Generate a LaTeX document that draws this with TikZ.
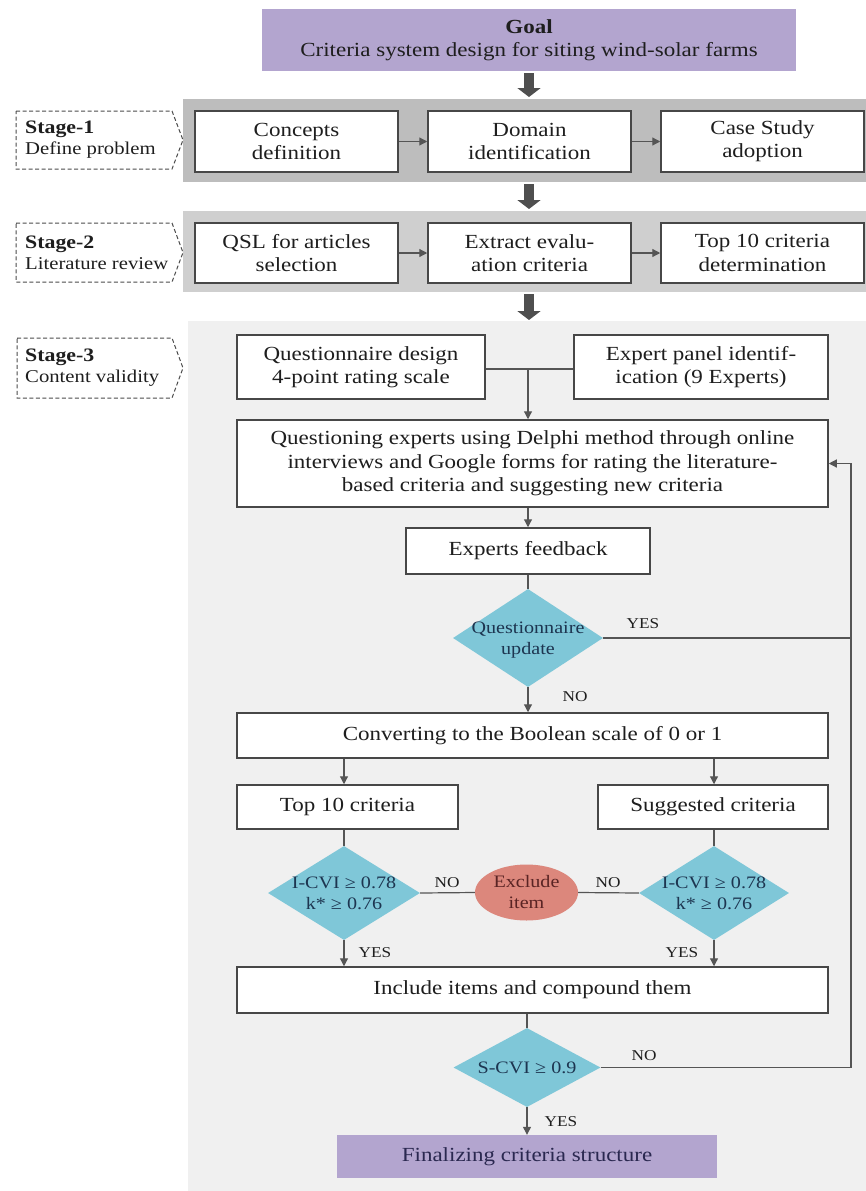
\documentclass[tikz,border=0pt]{standalone}
\usepackage{fontspec}
\setmainfont{Liberation Serif}[FakeStretch=1.15]
\usetikzlibrary{arrows.meta,shapes.geometric}
\definecolor{purp}{HTML}{B3A5CF}
\definecolor{bandA}{HTML}{BDBDBD}
\definecolor{bandB}{HTML}{CFCFCF}
\definecolor{bandC}{HTML}{F0F0F0}
\definecolor{diablue}{HTML}{7FC7D8}
\definecolor{salmon}{HTML}{DC877C}
\definecolor{boxline}{HTML}{474747}
\definecolor{linegray}{HTML}{555555}
\definecolor{arrowgray}{HTML}{4F4F4F}
\definecolor{txt}{HTML}{1E1E1E}
\definecolor{diatxtc}{HTML}{1D3550}
\definecolor{extxt}{HTML}{5A2424}
\definecolor{fintxt}{HTML}{2A2850}
\begin{document}
\begin{tikzpicture}[x=1pt,y=-1pt,
  box/.style={draw=boxline,line width=1.5pt,fill=white,align=center,
    font=\fontsize{20}{23.3}\selectfont,text=txt,inner sep=0pt},
  band/.style={inner sep=0pt,draw=none},
  dia/.style={diamond,fill=diablue,draw=none,inner sep=0pt},
  diatxt/.style={font=\fontsize{17.5}{21}\selectfont,text=diatxtc,align=center,inner sep=0pt},
  yn/.style={font=\fontsize{15}{17}\selectfont,text=txt,inner sep=0pt},
  stagetxt/.style={anchor=west,align=left,inner sep=0pt,font=\fontsize{18}{21}\selectfont,text=txt},
  stageframe/.style={draw=gray!60!black,line width=1pt,dash pattern=on 4pt off 2.5pt},
  thickarrow/.style={draw=arrowgray,line width=10pt,-{Triangle[length=9pt,width=23pt]}},
  thin/.style={draw=linegray,line width=1.2pt},
  thinarrow/.style={thin,-{Triangle[length=8pt,width=8pt]}}
]
\useasboundingbox (0,0) rectangle (865,1191);
\fill[white] (0,0) rectangle (865,1191);

% goal
\node[fill=purp,minimum width=534pt,minimum height=62pt,align=center,inner sep=0pt,
  font=\fontsize{20}{23}\selectfont,text=txt] (goal) at (529,40)
  {\textbf{Goal}\\Criteria system design for siting wind-solar farms};

% bands
\node[band,fill=bandA,minimum width=687pt,minimum height=83pt] (band1) at (526.5,140.5) {};
\node[band,fill=bandB,minimum width=687pt,minimum height=81pt] (band2) at (526.5,251.5) {};
\node[band,fill=bandC,minimum width=682pt,minimum height=874pt] (band3) at (529,758) {};

% stage labels
\draw[stageframe] (16,111) -- (172,111) -- (183,140) -- (172,169) -- (16,169) -- cycle;
\node[stagetxt] (lab1) at (25,140) {\textbf{\fontsize{19}{21}\selectfont Stage-1}\\Define problem};
\draw[stageframe] (16,223) -- (172,223) -- (183,252.5) -- (172,282) -- (16,282) -- cycle;
\node[stagetxt] (lab2) at (25,252.5) {\textbf{\fontsize{19}{21}\selectfont Stage-2}\\Literature review};
\draw[stageframe] (17,338) -- (172,338) -- (183,368) -- (172,398) -- (17,398) -- cycle;
\node[stagetxt] (lab3) at (25,368) {\textbf{\fontsize{19}{21}\selectfont Stage-3}\\Content validity};

% stage 1 boxes
\node[box,minimum width=203pt,minimum height=61pt] (c1) at (296.5,141.5) {Concepts\\definition};
\node[box,minimum width=203pt,minimum height=61pt] (c2) at (529.5,141.5) {Domain\\identification};
\node[box,minimum width=203pt,minimum height=61pt] (c3) at (762.5,141.5) {Case Study\\adoption};
% stage 2 boxes
\node[box,minimum width=203pt,minimum height=60pt] (e1) at (296.5,253) {QSL for articles\\selection};
\node[box,minimum width=203pt,minimum height=60pt] (e2) at (529.5,253) {Extract evalu-\\ation criteria};
\node[box,minimum width=203pt,minimum height=60pt] (e3) at (762.5,253) {Top 10 criteria\\determination};

% stage 3
\node[box,minimum width=248pt,minimum height=64pt] (qd) at (361,367) {Questionnaire design\\4-point rating scale};
\node[box,minimum width=254pt,minimum height=64pt] (ep) at (701,367) {Expert panel identif-\\ication (9 Experts)};
\node[box,minimum width=591pt,minimum height=87pt] (qe) at (532.5,463.5)
  {Questioning experts using Delphi method through online\\interviews and Google forms for rating the literature-\\based criteria and suggesting new criteria};
\node[box,minimum width=244pt,minimum height=46pt] (fb) at (528,551) {Experts feedback};
\node[dia,minimum width=150pt,minimum height=98pt] (qu) at (528,638) {};
\node[diatxt] (qut) at (528,640) {Questionnaire\\update};
\node[box,minimum width=591pt,minimum height=45pt] (conv) at (532.5,735.5) {Converting to the Boolean scale of 0 or 1};
\node[box,minimum width=221pt,minimum height=44pt] (t10) at (347.5,807) {Top 10 criteria};
\node[box,minimum width=230pt,minimum height=44pt] (sg) at (713,807) {Suggested criteria};
\node[dia,minimum width=152pt,minimum height=94pt] (d1) at (344,893) {};
\node[diatxt] (d1t) at (344,893) {I-CVI ≥ 0.78\\k* ≥ 0.76};
\node[dia,minimum width=150pt,minimum height=94pt] (d2) at (714,893) {};
\node[diatxt] (d2t) at (714,893) {I-CVI ≥ 0.78\\k* ≥ 0.76};
\node[ellipse,fill=salmon,minimum width=103pt,minimum height=56pt,inner sep=0pt] (ex) at (526.5,892.5) {};
\node[diatxt,text=extxt] (ext) at (526.5,892.5) {Exclude\\item};
\node[box,minimum width=591pt,minimum height=46pt] (incl) at (532.5,990) {Include items and compound them};
\node[dia,minimum width=147pt,minimum height=79pt] (scvi) at (527,1067.5) {};
\node[diatxt] (scvit) at (527,1068) {S-CVI ≥ 0.9};
\node[fill=purp,minimum width=380pt,minimum height=43pt,inner sep=0pt,
  font=\fontsize{20}{23}\selectfont,text=fintxt] (final) at (527,1156.5) {Finalizing criteria structure};

% thick arrows
\draw[thickarrow,shorten <=2pt,shorten >=1pt] (goal.south -| 529,0) -- (529,98);
\coordinate (ta1) at (529,184);
\coordinate (ta2) at (529,209);
\coordinate (tb1) at (529,294);
\coordinate (tb2) at (529,320);
\draw[thickarrow] (ta1) -- (ta2);
\draw[thickarrow] (tb1) -- (tb2);

% stage 1/2 small arrows
\draw[thinarrow] (c1.east) -- (c2.west);
\draw[thinarrow] (c2.east) -- (c3.west);
\draw[thinarrow] (e1.east) -- (e2.west);
\draw[thinarrow] (e2.east) -- (e3.west);

% stage 3 connectors
\coordinate (m) at (528,369);
\draw[thin] (qd.east |- m) -- (ep.west |- m);
\draw[thinarrow] (m) -- (m |- qe.north);
\draw[thinarrow] (fb.north |- qe.south) -- (fb.north);
\draw[thin] (fb.south) -- (qu.north);
\draw[thinarrow] (qu.south) -- (qu.south |- conv.north);
\coordinate (lp) at (851,638);
\draw[thin] (qu.east) -- (lp);
\draw[thinarrow] (scvi.east) -- (scvi.east -| lp) -- (qe.east -| lp) -- (qe.east);
\draw[thinarrow] (conv.south -| d1) -- (t10.north -| d1);
\draw[thinarrow] (conv.south -| d2) -- (sg.north -| d2);
\draw[thin] (t10.south -| d1) -- (d1.north);
\draw[thin] (sg.south -| d2) -- (d2.north);
\draw[thin] (d1.east) -- (ex.west);
\draw[thin] (ex.east) -- (d2.west);
\draw[thinarrow] (d1.south) -- (d1.south |- incl.north);
\draw[thinarrow] (d2.south) -- (d2.south |- incl.north);
\draw[thin] (incl.south -| scvi) -- (scvi.north);
\draw[thinarrow] (scvi.south) -- (final.north);

% yes / no labels
\node[yn] (y1) at (643,624) {YES};
\node[yn] (n1) at (575,697) {NO};
\node[yn] (n2) at (447,883) {NO};
\node[yn] (n3) at (608,883) {NO};
\node[yn] (y2) at (375,953) {YES};
\node[yn] (y3) at (682,953) {YES};
\node[yn] (n4) at (644,1056) {NO};
\node[yn] (y4) at (561,1122) {YES};
\end{tikzpicture}
\end{document}
